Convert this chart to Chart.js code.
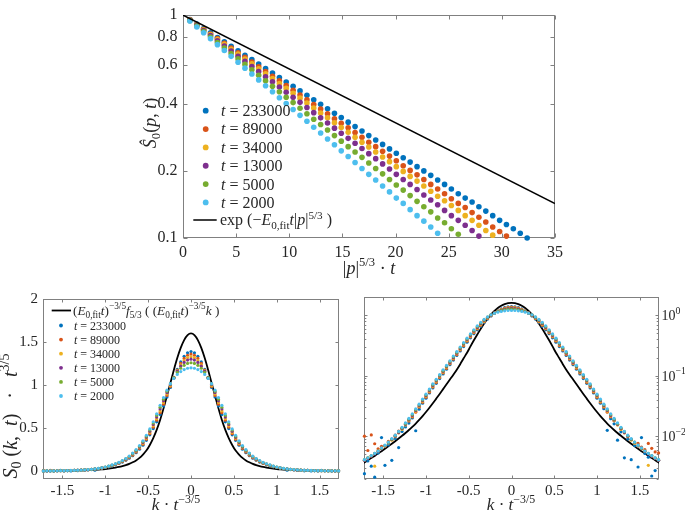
<!DOCTYPE html>
<html><head><meta charset="utf-8">
<script src="https://cdn.jsdelivr.net/npm/chart.js@4.4.1/dist/chart.umd.min.js"></script>
<style>
html,body{margin:0;padding:0;background:#fff;width:685px;height:512px;overflow:hidden}
canvas{position:absolute;display:block}
</style></head><body>
<canvas id="cTop" width="685" height="285" style="left:0;top:0"></canvas>
<canvas id="cBL" width="342" height="227" style="left:0;top:285px"></canvas>
<canvas id="cBR" width="343" height="227" style="left:342px;top:285px"></canvas>
<script>
// ---------- DATA ----------
const seriesT = ['233000','89000','34000','13000','5000','2000'];

// top panel: |p|^{5/3} t  vs  S0(p,t)
const topX = [0.65,1.30,1.94,2.59,3.24,3.89,4.53,5.18,5.83,6.48,7.12,7.77,8.42,9.07,9.71,10.36,11.01,11.66,12.30,12.95,13.60,14.25,14.89,15.54,16.19,16.84,17.48,18.13,18.78,19.43,20.07,20.72,21.37,22.02,22.66,23.31,23.96,24.61,25.25,25.90,26.55,27.20,27.84,28.49,29.14,29.79,30.43,31.08,31.73,32.38];
const topS233000 = [0.955,0.912,0.871,0.832,0.794,0.759,0.724,0.692,0.661,0.631,0.603,0.575,0.550,0.525,0.501,0.479,0.457,0.437,0.417,0.398,0.380,0.363,0.347,0.331,0.316,0.302,0.288,0.275,0.263,0.251,0.240,0.229,0.219,0.209,0.200,0.191,0.182,0.174,0.166,0.158,0.151,0.145,0.138,0.132,0.126,0.120,0.115,0.110,0.105,0.100];
const topS89000 = [0.952,0.907,0.864,0.823,0.784,0.747,0.712,0.678,0.646,0.615,0.586,0.558,0.532,0.507,0.483,0.460,0.438,0.417,0.397,0.379,0.361,0.343,0.327,0.312,0.297,0.283,0.269,0.257,0.245,0.233,0.222,0.211,0.201,0.192,0.183,0.174,0.166,0.158,0.150,0.143,0.137,0.130,0.124,0.118,0.112,0.107,0.102];
const topS34000 = [0.951,0.904,0.859,0.817,0.777,0.739,0.702,0.668,0.635,0.604,0.574,0.546,0.519,0.493,0.469,0.446,0.424,0.403,0.383,0.364,0.346,0.329,0.313,0.298,0.283,0.269,0.256,0.243,0.231,0.220,0.209,0.199,0.189,0.180,0.171,0.162,0.154,0.147,0.140,0.133,0.126,0.120,0.114,0.108,0.103];
const topS13000 = [0.948,0.899,0.853,0.809,0.767,0.727,0.690,0.654,0.620,0.588,0.558,0.529,0.502,0.476,0.451,0.428,0.406,0.385,0.365,0.346,0.328,0.311,0.295,0.280,0.266,0.252,0.239,0.227,0.215,0.204,0.193,0.183,0.174,0.165,0.156,0.148,0.141,0.133,0.126,0.120,0.114,0.108,0.102];
const topS5000 = [0.945,0.893,0.844,0.797,0.754,0.712,0.673,0.636,0.601,0.568,0.537,0.507,0.479,0.453,0.428,0.405,0.382,0.361,0.341,0.323,0.305,0.288,0.272,0.257,0.243,0.230,0.217,0.205,0.194,0.183,0.173,0.164,0.155,0.146,0.138,0.131,0.123,0.117,0.110,0.104];
const topS2000 = [0.941,0.885,0.833,0.784,0.737,0.694,0.653,0.614,0.578,0.544,0.512,0.482,0.453,0.426,0.401,0.377,0.355,0.334,0.314,0.296,0.278,0.262,0.246,0.232,0.218,0.205,0.193,0.182,0.171,0.161,0.151,0.143,0.134,0.126,0.119,0.112,0.105];
const topFitX = [0, 35];
const topFitY = [1, 0.1428];
const topXTicks = [0,5,10,15,20,25,30,35];
const topYTicks = [0.1,0.2,0.4,0.6,0.8,1];
const topYTickLabels = ['0.1','0.2','0.4','0.6','0.8','1'];

// bottom panels: k t^{-3/5}  vs  S0(k,t) t^{3/5}
const kGrid = [-1.72,-1.68,-1.64,-1.60,-1.56,-1.52,-1.48,-1.44,-1.40,-1.36,-1.32,-1.28,-1.24,-1.20,-1.16,-1.12,-1.08,-1.04,-1.00,-0.96,-0.92,-0.88,-0.84,-0.80,-0.76,-0.72,-0.68,-0.64,-0.60,-0.56,-0.52,-0.48,-0.44,-0.40,-0.36,-0.32,-0.28,-0.24,-0.20,-0.16,-0.12,-0.08,-0.04,0,0.04,0.08,0.12,0.16,0.20,0.24,0.28,0.32,0.36,0.40,0.44,0.48,0.52,0.56,0.60,0.64,0.68,0.72,0.76,0.80,0.84,0.88,0.92,0.96,1.00,1.04,1.08,1.12,1.16,1.20,1.24,1.28,1.32,1.36,1.40,1.44,1.48,1.52,1.56,1.60,1.64,1.68,1.72];
const prof233000 = [0.0024,0.0039,0.0032,0.0021,0.0053,0.0095,0.0033,0.0072,0.0040,0.0092,0.0065,0.0120,0.0142,0.0165,0.0200,0.0123,0.0280,0.0352,0.0426,0.0518,0.0629,0.0749,0.0897,0.107,0.128,0.152,0.181,0.216,0.256,0.303,0.359,0.423,0.495,0.574,0.659,0.758,0.863,0.973,1.081,1.182,1.269,1.334,1.376,1.390,1.376,1.334,1.269,1.182,1.081,0.973,0.863,0.758,0.659,0.574,0.495,0.423,0.359,0.303,0.256,0.216,0.181,0.152,0.128,0.107,0.0897,0.0749,0.0629,0.0518,0.0426,0.0352,0.0285,0.0125,0.0195,0.0160,0.0086,0.0118,0.0044,0.0090,0.0041,0.0070,0.0031,0.0095,0.0052,0.0045,0.0022,0.0027,0.0040];
const prof89000 = [0.0100,0.0058,0.0105,0.0075,0.0062,0.0068,0.0070,0.0082,0.0088,0.0104,0.0122,0.0135,0.0160,0.0178,0.0208,0.0250,0.0301,0.0363,0.0439,0.0535,0.0649,0.0774,0.0926,0.111,0.132,0.157,0.187,0.223,0.265,0.313,0.371,0.436,0.511,0.592,0.680,0.778,0.880,0.983,1.084,1.175,1.252,1.310,1.347,1.360,1.347,1.310,1.252,1.175,1.084,0.983,0.880,0.778,0.680,0.592,0.511,0.436,0.371,0.313,0.265,0.223,0.187,0.157,0.132,0.111,0.0926,0.0774,0.0649,0.0535,0.0439,0.0363,0.0301,0.0250,0.0208,0.0180,0.0158,0.0130,0.0118,0.0100,0.0089,0.0080,0.0076,0.0066,0.0060,0.0076,0.0063,0.0055,0.0053];
const prof34000 = [0.0040,0.0044,0.0047,0.0032,0.0057,0.0063,0.0068,0.0077,0.0086,0.0098,0.0113,0.0130,0.0153,0.0180,0.0215,0.0258,0.0310,0.0374,0.0453,0.0552,0.0670,0.0798,0.0955,0.114,0.136,0.162,0.193,0.230,0.273,0.323,0.382,0.450,0.527,0.611,0.701,0.798,0.897,0.994,1.086,1.168,1.236,1.286,1.319,1.329,1.319,1.286,1.236,1.168,1.086,0.994,0.897,0.798,0.701,0.611,0.527,0.450,0.382,0.323,0.273,0.230,0.193,0.162,0.136,0.114,0.0955,0.0798,0.0670,0.0552,0.0453,0.0374,0.0310,0.0258,0.0215,0.0180,0.0153,0.0130,0.0113,0.0098,0.0086,0.0076,0.0069,0.0062,0.0056,0.0033,0.0047,0.0043,0.0040];
const prof13000 = [0.0040,0.0043,0.0047,0.0051,0.0056,0.0062,0.0069,0.0078,0.0088,0.0100,0.0115,0.0134,0.0157,0.0186,0.0221,0.0266,0.0320,0.0386,0.0467,0.0568,0.0690,0.0822,0.0985,0.118,0.140,0.166,0.199,0.236,0.281,0.333,0.394,0.464,0.543,0.629,0.723,0.818,0.913,1.006,1.090,1.162,1.220,1.264,1.291,1.301,1.291,1.264,1.220,1.162,1.090,1.006,0.913,0.818,0.723,0.629,0.543,0.464,0.394,0.333,0.281,0.236,0.199,0.166,0.140,0.118,0.0985,0.0822,0.0690,0.0568,0.0467,0.0386,0.0320,0.0266,0.0221,0.0186,0.0157,0.0134,0.0115,0.0100,0.0088,0.0078,0.0069,0.0062,0.0056,0.0051,0.0047,0.0043,0.0040];
const prof5000 = [0.0041,0.0044,0.0048,0.0052,0.0057,0.0063,0.0070,0.0079,0.0089,0.0102,0.0118,0.0137,0.0161,0.0191,0.0228,0.0274,0.0329,0.0397,0.0481,0.0585,0.0711,0.0846,0.1014,0.121,0.144,0.171,0.205,0.243,0.289,0.343,0.405,0.478,0.559,0.648,0.744,0.837,0.928,1.014,1.088,1.148,1.196,1.230,1.252,1.260,1.252,1.230,1.196,1.148,1.088,1.014,0.928,0.837,0.744,0.648,0.559,0.478,0.405,0.343,0.289,0.243,0.205,0.171,0.144,0.121,0.1014,0.0846,0.0711,0.0585,0.0481,0.0397,0.0329,0.0274,0.0228,0.0191,0.0161,0.0137,0.0118,0.0102,0.0089,0.0079,0.0070,0.0063,0.0057,0.0052,0.0048,0.0044,0.0041];
const prof2000 = [0.0041,0.0044,0.0048,0.0052,0.0057,0.0064,0.0071,0.0080,0.0091,0.0104,0.0120,0.0140,0.0166,0.0197,0.0234,0.0282,0.0339,0.0409,0.0495,0.0602,0.0731,0.0871,0.104,0.125,0.148,0.176,0.211,0.250,0.298,0.353,0.417,0.491,0.575,0.667,0.765,0.856,0.941,1.017,1.078,1.124,1.157,1.181,1.196,1.201,1.196,1.181,1.157,1.124,1.078,1.017,0.941,0.856,0.765,0.667,0.575,0.491,0.417,0.353,0.298,0.250,0.211,0.176,0.148,0.125,0.104,0.0871,0.0731,0.0602,0.0495,0.0409,0.0339,0.0282,0.0234,0.0197,0.0166,0.0140,0.0120,0.0104,0.0091,0.0080,0.0071,0.0064,0.0057,0.0052,0.0048,0.0044,0.0041];
const kFit = [-1.76,-1.72,-1.68,-1.64,-1.60,-1.56,-1.52,-1.48,-1.44,-1.40,-1.36,-1.32,-1.28,-1.24,-1.20,-1.16,-1.12,-1.08,-1.04,-1.00,-0.96,-0.92,-0.88,-0.84,-0.80,-0.76,-0.72,-0.68,-0.64,-0.60,-0.56,-0.52,-0.48,-0.44,-0.40,-0.36,-0.32,-0.28,-0.24,-0.20,-0.16,-0.12,-0.08,-0.04,0,0.04,0.08,0.12,0.16,0.20,0.24,0.28,0.32,0.36,0.40,0.44,0.48,0.52,0.56,0.60,0.64,0.68,0.72,0.76,0.80,0.84,0.88,0.92,0.96,1.00,1.04,1.08,1.12,1.16,1.20,1.24,1.28,1.32,1.36,1.40,1.44,1.48,1.52,1.56,1.60,1.64,1.68,1.72,1.76];
const fitProfile = [0.00341,0.00369,0.00400,0.00435,0.00473,0.00516,0.00565,0.00619,0.00681,0.00750,0.00828,0.00916,0.01016,0.01132,0.01268,0.0143,0.0162,0.0186,0.0215,0.0251,0.0295,0.0350,0.0418,0.0500,0.0600,0.0720,0.0865,0.104,0.126,0.155,0.194,0.240,0.305,0.385,0.480,0.595,0.730,0.875,1.026,1.175,1.314,1.432,1.523,1.580,1.600,1.580,1.523,1.432,1.314,1.175,1.026,0.875,0.730,0.595,0.480,0.385,0.305,0.240,0.194,0.155,0.126,0.104,0.0865,0.0720,0.0600,0.0500,0.0418,0.0350,0.0295,0.0251,0.0215,0.0186,0.0162,0.0143,0.01268,0.01132,0.01016,0.00916,0.00828,0.00750,0.00681,0.00619,0.00565,0.00516,0.00473,0.00435,0.00400,0.00369,0.00341];
const kTicks = [-1.5,-1,-0.5,0,0.5,1,1.5];
const kTickLabels = ['-1.5','-1','-0.5','0','0.5','1','1.5'];
const linYTicks = [0,0.5,1,1.5,2];
const linYTickLabels = ['0','0.5','1','1.5','2'];
const logYTicks = [0.01,0.1,1];
const logYTickBase = ['10','10','10'];
const logYTickExp = ['\u22122','\u22121','0'];
const logYMinor = [0.002,0.003,0.004,0.005,0.006,0.007,0.008,0.009,0.02,0.03,0.04,0.05,0.06,0.07,0.08,0.09,0.2,0.3,0.4,0.5,0.6,0.7,0.8,0.9,2];

// ---------- STYLE ----------
const COLORS = ['#0072BD','#D95319','#EDB120','#7E2F8E','#77AC30','#4DBEEE'];
const FAM = '"Liberation Serif","DejaVu Serif",serif';
const INK = '#262626';
const BOXC = '#808080';
Chart.defaults.font.family = FAM;
Chart.defaults.font.size = 16;
Chart.defaults.color = INK;

const topSeries = [topS233000, topS89000, topS34000, topS13000, topS5000, topS2000];
const profSeries = [prof233000, prof89000, prof34000, prof13000, prof5000, prof2000];

function segFont(s, size){ return (s.i ? 'italic ' : '') + (size*(s.s||1)).toFixed(2) + 'px ' + FAM; }
function drawRich(ctx, segs, x, y, size, align){
  ctx.save(); ctx.fillStyle = INK; ctx.textBaseline = 'alphabetic'; ctx.textAlign = 'left';
  const w = segs.map(s => { ctx.font = segFont(s,size); return ctx.measureText(s.t).width; });
  const tot = w.reduce((a,b)=>a+b,0);
  let cx = align === 'center' ? x - tot/2 : x;
  segs.forEach((s,k) => { ctx.font = segFont(s,size); ctx.fillText(s.t, cx, y + (s.dy||0)*size); cx += w[k]; });
  ctx.restore();
}
function drawRichV(ctx, segs, x, y, size){
  ctx.save(); ctx.translate(x,y); ctx.rotate(-Math.PI/2); drawRich(ctx, segs, 0, 0, size, 'center'); ctx.restore();
}
const R = t => ({t}), I = t => ({t, i:1}), SUP = t => ({t, s:0.7, dy:-0.42}), SUB = t => ({t, s:0.7, dy:0.22});

function decoPlugin(cfg){
  return {
    id: 'deco',
    beforeDatasetsDraw(chart){
      const {ctx, chartArea:a, scales} = chart;
      ctx.save();
      ctx.strokeStyle = BOXC; ctx.lineWidth = 1;
      const L = Math.round(a.left)+0.5, T = Math.round(a.top)+0.5, Rr = Math.round(a.right)-0.5, B = Math.round(a.bottom)-0.5;
      ctx.strokeRect(L, T, Rr-L, B-T);
      ctx.beginPath();
      scales.x.ticks.forEach(t => {
        const p = Math.round(scales.x.getPixelForValue(t.value))+0.5;
        ctx.moveTo(p,B); ctx.lineTo(p,B-cfg.len); ctx.moveTo(p,T); ctx.lineTo(p,T+cfg.len);
      });
      scales.y.ticks.forEach(t => {
        const p = Math.round(scales.y.getPixelForValue(t.value))+0.5;
        ctx.moveTo(L,p); ctx.lineTo(L+cfg.len,p); ctx.moveTo(Rr,p); ctx.lineTo(Rr-cfg.len,p);
      });
      (cfg.minor||[]).forEach(v => {
        const p = Math.round(scales.y.getPixelForValue(v))+0.5;
        ctx.moveTo(L,p); ctx.lineTo(L+cfg.len*0.6,p); ctx.moveTo(Rr,p); ctx.lineTo(Rr-cfg.len*0.6,p);
      });
      ctx.stroke(); ctx.restore();
    },
    afterDraw(chart){ if (cfg.draw) cfg.draw(chart.ctx, chart); }
  };
}

function dotSet(points, idx, r){
  return { data: points, pointRadius: r, pointHoverRadius: r, pointBorderWidth: 0,
           pointBackgroundColor: COLORS[idx], backgroundColor: COLORS[idx], borderColor: COLORS[idx],
           showLine: false, clip: false, order: 5 - idx };
}
const commonOpts = { responsive:false, animation:false, devicePixelRatio:1, events:[],
  plugins:{ legend:{display:false}, tooltip:{enabled:false} } };
const noGrid = {display:false, drawTicks:false, tickLength:0};

// ---------- TOP ----------
(function(){
  const ds = topSeries.map((ys, i) => dotSet(ys.map((y,j)=>({x: topX[j], y})), i, 2.8));
  ds.push({ data: topFitX.map((x,j)=>({x, y: topFitY[j]})), showLine:true, borderColor:'#000', borderWidth:1.5,
            pointRadius:0, pointHoverRadius:0, order:-1 });
  new Chart(document.getElementById('cTop'), {
    type:'scatter', data:{datasets:ds},
    options: Object.assign({}, commonOpts, {
      layout:{padding:{left:123,right:130,top:9,bottom:7}},
      scales:{
        x:{type:'linear', min:0, max:35, grid:noGrid, border:{display:false},
           ticks:{padding:5, autoSkip:false, maxRotation:0, callback:(v,i)=>String(topXTicks[i])},
           afterBuildTicks:s=>{ s.ticks = topXTicks.map(v=>({value:v})); }, afterFit:s=>{ s.height = 40; }},
        y:{type:'logarithmic', min:0.1, max:1, grid:noGrid, border:{display:false},
           ticks:{padding:5.5, autoSkip:false, callback:(v,i)=>topYTickLabels[i]},
           afterBuildTicks:s=>{ s.ticks = topYTicks.map(v=>({value:v})); }, afterFit:s=>{ s.width = 60; }}
      }
    }),
    plugins:[decoPlugin({len:4, draw:(ctx)=>{
      seriesT.forEach((t,i)=>{
        const y = 110.7 + 18.35*i;
        ctx.save(); ctx.fillStyle = COLORS[i]; ctx.beginPath(); ctx.arc(205.7, y, 2.9, 0, Math.PI*2); ctx.fill(); ctx.restore();
        drawRich(ctx, [I('t'), R(' = ' + t)], 221, y + 5.4, 16, 'left');
      });
      ctx.save(); ctx.strokeStyle = '#000'; ctx.lineWidth = 1.5; ctx.beginPath(); ctx.moveTo(193.3,220); ctx.lineTo(216.7,220); ctx.stroke(); ctx.restore();
      drawRich(ctx, [R('exp '), R('(\u2212'), I('E'), SUB('0,fit'), I('t'), R('|'), I('p'), R('|'), SUP('5/3'), R(' )')], 220, 225.4, 16, 'left');
      drawRich(ctx, [R('|'), I('p'), R('|'), SUP('5/3'), R(' \u00B7 '), I('t')], 369, 274, 18, 'center');
      drawRichV(ctx, [I('\u015C'), SUB('0'), R('('), I('p'), R(', '), I('t'), R(')')], 156, 123, 18);
    }})]
  });
})();

// ---------- BOTTOM ----------
function bottomDatasets(){
  const ds = profSeries.map((ys,i) => dotSet(ys.map((y,j)=>({x:kGrid[j], y})), i, 1.6));
  ds.push({ data: kFit.map((x,j)=>({x, y: fitProfile[j]})), showLine:true, borderColor:'#000', borderWidth:1.8,
            pointRadius:0, pointHoverRadius:0, order:10, cubicInterpolationMode:'monotone' });
  return ds;
}
function kAxis(){ return {type:'linear', min:-1.725, max:1.725, grid:noGrid, border:{display:false},
  ticks:{padding:3.5, autoSkip:false, maxRotation:0, font:{size:15}, callback:(v,i)=>kTickLabels[i]},
  afterBuildTicks:s=>{ s.ticks = kTicks.map(v=>({value:v})); }, afterFit:s=>{ s.height = 30; }}; }

new Chart(document.getElementById('cBL'), {
  type:'scatter', data:{datasets: bottomDatasets()},
  options: Object.assign({}, commonOpts, {
    layout:{padding:{left:0,right:3,top:11,bottom:3}},
    scales:{
      x: kAxis(),
      y:{type:'linear', min:-0.09, max:2, grid:noGrid, border:{display:false},
         ticks:{padding:5, autoSkip:false, font:{size:15}, callback:(v,i)=>linYTickLabels[i]},
         afterBuildTicks:s=>{ s.ticks = linYTicks.map(v=>({value:v})); }, afterFit:s=>{ s.width = 43; }}
    }
  }),
  plugins:[decoPlugin({len:3, draw:(ctx)=>{
    ctx.save(); ctx.strokeStyle = '#000'; ctx.lineWidth = 1.8; ctx.beginPath(); ctx.moveTo(51.7,25.5); ctx.lineTo(71,25.5); ctx.stroke(); ctx.restore();
    drawRich(ctx, [R('('), I('E'), SUB('0,fit'), I('t'), R(')'), SUP('\u22123/5'), I('f'), SUB('5/3'), R(' ( ('), I('E'), SUB('0,fit'), I('t'), R(')'), SUP('\u22123/5'), I('k'), R(' )')], 73, 29.6, 13.3, 'left');
    seriesT.forEach((t,i)=>{
      const y = 40.5 + 14.1*i;
      ctx.save(); ctx.fillStyle = COLORS[i]; ctx.beginPath(); ctx.arc(61, y, 1.9, 0, Math.PI*2); ctx.fill(); ctx.restore();
      drawRich(ctx, [I('t'), R(' = ' + t)], 74, y + 4.2, 12, 'left');
    });
    drawRich(ctx, [I('k'), R(' \u00B7 '), I('t'), SUP('\u22123/5')], 176, 225, 17, 'center');
    drawRichV(ctx, [I('S'), SUB('0'), R(' ('), I('k'), R(',  '), I('t'), R(')   \u00B7   '), I('t'), SUP('3/5')], 17, 131, 20);
  }})]
});

new Chart(document.getElementById('cBR'), {
  type:'scatter', data:{datasets: bottomDatasets()},
  options: Object.assign({}, commonOpts, {
    layout:{padding:{left:22,right:0,top:12,bottom:3.5}},
    scales:{
      x: kAxis(),
      y:{type:'logarithmic', position:'right', min:0.002, max:2, grid:noGrid, border:{display:false},
         ticks:{display:false},
         afterBuildTicks:s=>{ s.ticks = logYTicks.map(v=>({value:v})); }, afterFit:s=>{ s.width = 26; }}
    }
  }),
  plugins:[decoPlugin({len:3, minor:logYMinor, draw:(ctx, chart)=>{
    const ys = chart.scales.y, a = chart.chartArea;
    logYTicks.forEach((v,i)=>{
      const p = ys.getPixelForValue(v);
      drawRich(ctx, [R(logYTickBase[i]), {t:logYTickExp[i], s:0.7, dy:-0.45}], a.right + 2.5, p + 5, 14, 'left');
    });
    drawRich(ctx, [I('k'), R(' \u00B7 '), I('t'), SUP('\u22123/5')], 169, 225, 17, 'center');
  }})]
});
</script>
</body></html>
